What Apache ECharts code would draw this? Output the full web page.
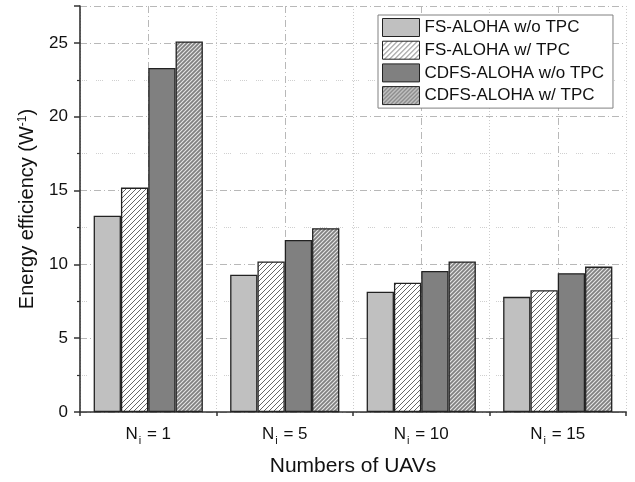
<!DOCTYPE html>
<html>
<head>
<meta charset="utf-8">
<script src="https://cdn.jsdelivr.net/npm/echarts@6/dist/echarts.min.js"></script>
<style>
  html, body { margin: 0; padding: 0; background: #fff; }
  #chart { width: 635px; height: 482px; }
</style>
</head>
<body>
<div id="chart"></div>
<script>
// Energy efficiency per scheme for different numbers of UAVs
const categories = ['1', '5', '10', '15'];
const seriesNames = ['FS-ALOHA w/o TPC', 'FS-ALOHA w/ TPC', 'CDFS-ALOHA w/o TPC', 'CDFS-ALOHA w/ TPC'];
const fsNoTpc   = [13.3, 9.3, 8.15, 7.8];
const fsTpc     = [15.2, 10.2, 8.75, 8.25];
const cdfsNoTpc = [23.3, 11.65, 9.55, 9.4];
const cdfsTpc   = [25.1, 12.45, 10.2, 9.85];
const yTicks = [0, 5, 10, 15, 20, 25];

// Diagonal hatch tile used as a repeating fill
function hatch(bg, fg, size, lw) {
  const c = document.createElement('canvas');
  c.width = size; c.height = size;
  const ctx = c.getContext('2d');
  ctx.fillStyle = bg;
  ctx.fillRect(0, 0, size, size);
  ctx.strokeStyle = fg;
  ctx.lineWidth = lw;
  ctx.beginPath();
  ctx.moveTo(-1, size + 1); ctx.lineTo(size + 1, -1);
  ctx.moveTo(-2, 2); ctx.lineTo(2, -2);
  ctx.moveTo(size - 2, size + 2); ctx.lineTo(size + 2, size - 2);
  ctx.stroke();
  return c;
}

const fills = [
  '#c0c0c0',
  { image: hatch('#ffffff', '#555555', 5, 0.9), repeat: 'repeat' },
  '#808080',
  { image: hatch('#808080', '#e6e6e6', 4, 1.1), repeat: 'repeat' }
];
const values = [fsNoTpc, fsTpc, cdfsNoTpc, cdfsTpc];

const chart = echarts.init(document.getElementById('chart'), null, { renderer: 'canvas' });

const FONT = 'Liberation Sans, Arial, sans-serif';
const axisColor = '#333';
const dottedGrid = [1, 1, 1, 1, 1, 1, 1, 9];

chart.setOption({
  animation: false,
  backgroundColor: '#fff',
  textStyle: { fontFamily: FONT },
  grid: { left: 80, right: 9, top: 6, bottom: 70 },
  legend: {
    orient: 'vertical',
    left: 378,
    top: 15,
    itemWidth: 37,
    itemHeight: 18,
    itemGap: 3.7,
    padding: [3, 9, 3, 4],
    backgroundColor: '#fff',
    borderColor: '#808080',
    borderWidth: 1,
    borderRadius: 0,
    itemStyle: { borderWidth: 1 },
    textStyle: { fontSize: 17, color: '#111', fontFamily: FONT },
    data: seriesNames.map(n => ({ name: n, icon: 'rect' }))
  },
  xAxis: [
    {
      type: 'category',
      data: categories,
      boundaryGap: true,
      name: 'Numbers of UAVs',
      nameLocation: 'middle',
      nameGap: 44,
      nameTextStyle: { fontSize: 21, color: '#111', fontFamily: FONT, verticalAlign: 'top' },
      axisLine: { lineStyle: { color: axisColor, width: 1.6 } },
      axisTick: { alignWithLabel: true, length: 6, lineStyle: { color: axisColor, width: 1.5 } },
      axisLabel: {
        margin: 14,
        formatter: v => '{n|N}{sub|i}{n| = ' + v + '}',
        rich: {
          n: { fontSize: 17, color: '#111', fontFamily: FONT, lineHeight: 20, verticalAlign: 'top' },
          sub: { fontSize: 11, color: '#111', fontFamily: FONT, lineHeight: 10, verticalAlign: 'bottom', padding: [0, 1, 0, 1] }
        }
      },
      splitLine: { show: true, alignWithLabel: true, lineStyle: { color: '#b8b8b8', width: 1, type: [7, 3, 1, 3] } }
    },
    {
      type: 'category',
      data: categories,
      boundaryGap: true,
      position: 'bottom',
      axisLine: { show: false },
      axisLabel: { show: false },
      axisTick: { show: true, length: 4, lineStyle: { color: axisColor, width: 1.5 } },
      splitLine: { show: true, lineStyle: { color: '#cccccc', width: 1, type: [1, 2] } }
    }
  ],
  yAxis: {
    type: 'value',
    min: 0,
    max: 27.5,
    interval: 5,
    name: 'Energy efficiency (W{sup|-1})',
    nameLocation: 'middle',
    nameGap: 43,
    nameRotate: 90,
    nameTextStyle: {
      fontSize: 20, color: '#111', fontFamily: FONT,
      rich: { sup: { fontSize: 12, color: '#111', fontFamily: FONT, verticalAlign: 'top', lineHeight: 10 } }
    },
    axisLine: { show: true, lineStyle: { color: axisColor, width: 1.6 } },
    axisTick: { show: true, length: 6, lineStyle: { color: axisColor, width: 1.5 } },
    minorTick: { show: true, splitNumber: 2, length: 3, lineStyle: { color: axisColor, width: 1.2 } },
    axisLabel: {
      fontSize: 17, color: '#111', margin: 12, showMaxLabel: false,
      formatter: v => (yTicks.indexOf(v) >= 0 ? String(v) : '')
    },
    splitLine: { show: true, lineStyle: { color: '#b8b8b8', width: 1, type: [7, 3, 1, 3] } },
    minorSplitLine: { show: true, lineStyle: { color: '#d0d0d0', width: 1, type: dottedGrid } }
  },
  series: seriesNames.map((name, i) => ({
    name: name,
    type: 'bar',
    xAxisIndex: 0,
    data: values[i],
    barGap: '0%',
    barCategoryGap: '20%',
    itemStyle: { color: fills[i], borderColor: '#222', borderWidth: 1.3 },
    emphasis: { disabled: true }
  }))
});
</script>
</body>
</html>
